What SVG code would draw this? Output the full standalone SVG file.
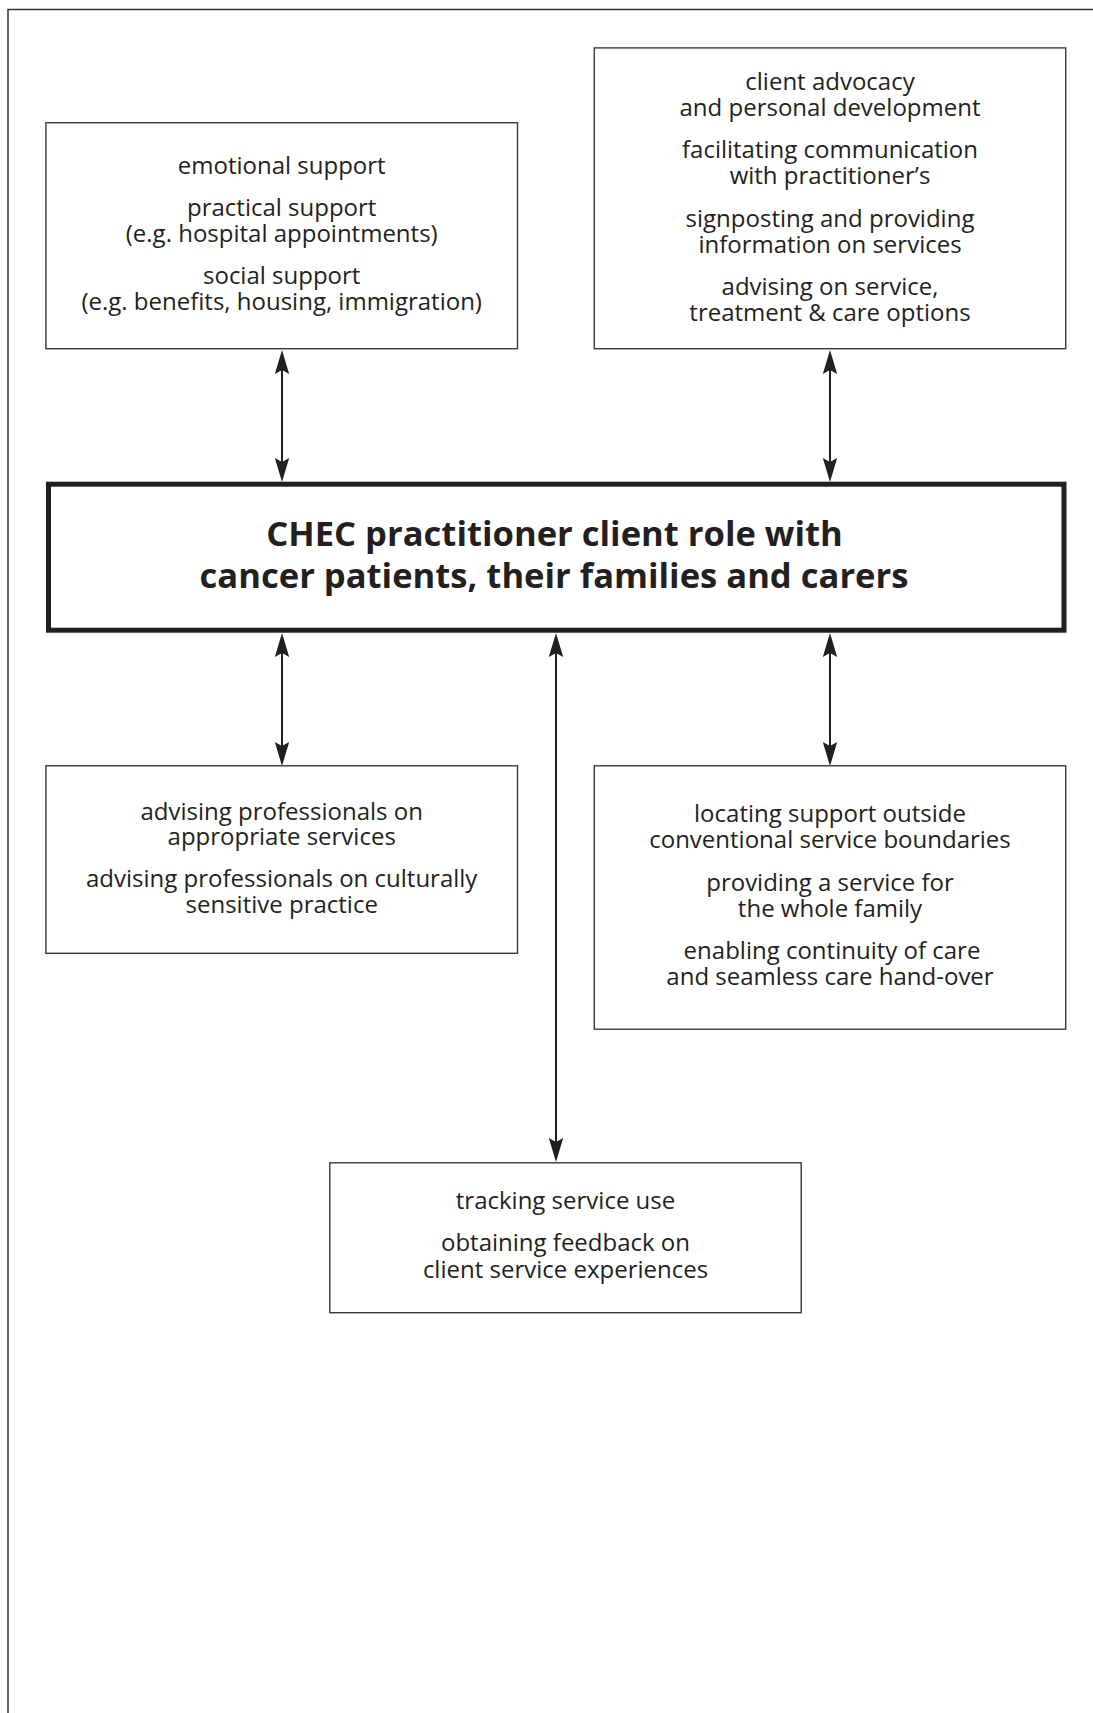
<svg xmlns="http://www.w3.org/2000/svg" width="1093" height="1713" viewBox="0 0 1093 1713">
<style>
.box{fill:#fff;stroke:#3a3a3a;stroke-width:1.4}
.main{fill:#fff;stroke:#231f20;stroke-width:5}
.t{font-family:"Open Sans","Noto Sans",sans-serif;font-size:24px;fill:#231f20;text-anchor:middle}
.h{font-family:"Open Sans","Noto Sans",sans-serif;font-size:34.6px;font-weight:bold;fill:#231f20;text-anchor:middle}
.c{stroke:#231f20;stroke-width:2;fill:none;marker-start:url(#ah);marker-end:url(#ah)}
.frame{stroke:#333;stroke-width:1.5;fill:none}
</style>
<defs>
<marker id="ah" viewBox="-25 -8 26 16" refX="-18" refY="0" markerWidth="26" markerHeight="16" markerUnits="userSpaceOnUse" orient="auto-start-reverse">
<path d="M0,0 L-24,-7.2 L-20,0 L-24,7.2 Z" fill="#231f20"/>
</marker>
</defs>
<rect width="1093" height="1713" fill="#fff"/>
<path class="frame" d="M8,1713 L8,9.5 L1093,9.5"/>

<g id="connectors">
<line class="c" x1="282" y1="368" x2="282" y2="464"/>
<line class="c" x1="830" y1="368" x2="830" y2="464"/>
<line class="c" x1="282" y1="651" x2="282" y2="748"/>
<line class="c" x1="556" y1="651" x2="556" y2="1144"/>
<line class="c" x1="830" y1="651" x2="830" y2="748"/>
</g>

<g id="node-support">
<rect class="box" x="45.9" y="122.7" width="471.6" height="226"/>
<text class="t" x="281.7" y="173.5">emotional support</text>
<text class="t" x="281.7" y="215.5">practical support</text>
<text class="t" x="281.7" y="241.5">(e.g. hospital appointments)</text>
<text class="t" x="281.7" y="284">social support</text>
<text class="t" x="281.7" y="310">(e.g. benefits, housing, immigration)</text>
</g>

<g id="node-advocacy">
<rect class="box" x="594.3" y="47.9" width="471.4" height="300.8"/>
<text class="t" x="830" y="89.5">client advocacy</text>
<text class="t" x="830" y="115.5">and personal development</text>
<text class="t" x="830" y="158">facilitating communication</text>
<text class="t" x="830" y="184">with practitioner’s</text>
<text class="t" x="830" y="226.5">signposting and providing</text>
<text class="t" x="830" y="252.5">information on services</text>
<text class="t" x="830" y="295">advising on service,</text>
<text class="t" x="830" y="321">treatment &amp; care options</text>
</g>

<g id="node-central">
<rect class="main" x="48.5" y="484.2" width="1015.5" height="146"/>
<text class="h" x="554.5" y="546">CHEC practitioner client role with</text>
<text class="h" x="554" y="587.5">cancer patients, their families and carers</text>
</g>

<g id="node-professionals">
<rect class="box" x="45.9" y="765.8" width="471.6" height="187.5"/>
<text class="t" x="281.7" y="819.5">advising professionals on</text>
<text class="t" x="281.7" y="844.5">appropriate services</text>
<text class="t" x="281.7" y="887">advising professionals on culturally</text>
<text class="t" x="281.7" y="913">sensitive practice</text>
</g>

<g id="node-locating">
<rect class="box" x="594.3" y="765.8" width="471.4" height="263.4"/>
<text class="t" x="830" y="821.7">locating support outside</text>
<text class="t" x="830" y="848.3">conventional service boundaries</text>
<text class="t" x="830" y="890.7">providing a service for</text>
<text class="t" x="830" y="916.7">the whole family</text>
<text class="t" x="832" y="959.3">enabling continuity of care</text>
<text class="t" x="830" y="985">and seamless care hand-over</text>
</g>

<g id="node-tracking">
<rect class="box" x="329.8" y="1162.8" width="471.4" height="149.9"/>
<text class="t" x="565.5" y="1209.3">tracking service use</text>
<text class="t" x="565.5" y="1251">obtaining feedback on</text>
<text class="t" x="565.5" y="1278.3">client service experiences</text>
</g>
</svg>
